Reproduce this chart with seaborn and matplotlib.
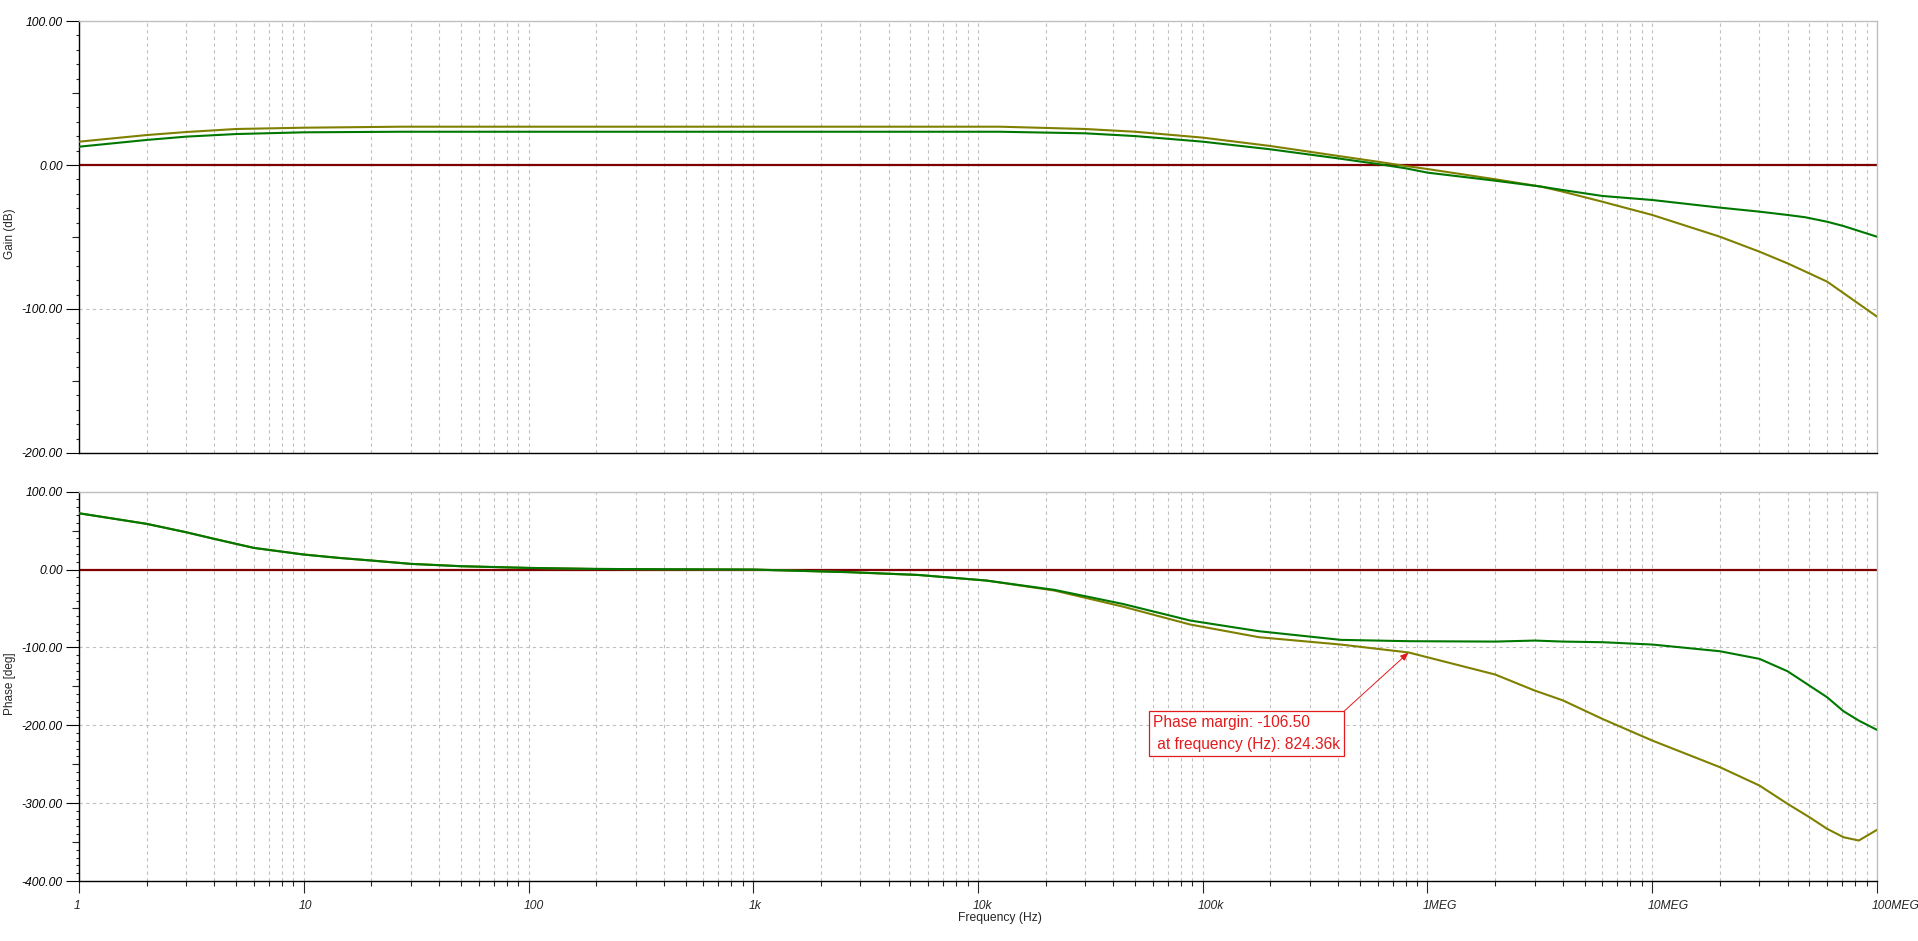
import matplotlib
matplotlib.use("Agg")
import matplotlib.pyplot as plt
import matplotlib.transforms as mtransforms
from matplotlib.ticker import FixedLocator, LogLocator, NullFormatter
import numpy as np
import seaborn as sns

# values (TINA style)
gain_freq = [1, 2, 3, 5, 10, 27, 100, 1e3, 5e3, 12.5e3, 30e3, 50e3, 100e3, 200e3, 400e3,
             600e3, 800e3, 1e6, 2e6, 3.2e6, 4e6, 6e6, 10e6, 20e6, 30e6, 40e6, 48e6, 60e6,
             71e6, 100e6]
gain_olive = [16.2, 20.8, 22.9, 25.0, 25.9, 26.6, 26.6, 26.6, 26.6, 26.6, 25.0, 23.1, 19.0,
              13.2, 6.3, 2.3, -0.7, -2.8, -9.9, -15.0, -18.5, -25.5, -34.7, -49.8, -60.2,
              -68.3, -74.0, -81.0, -89.0, -105.3]
gain_green = [12.7, 17.4, 19.7, 21.5, 22.7, 23.1, 23.1, 23.1, 23.1, 23.1, 22.0, 20.1, 16.2,
              10.9, 4.6, 0.7, -2.3, -5.3, -10.9, -15.0, -17.4, -21.5, -24.3, -29.6, -32.4,
              -34.7, -36.3, -39.4, -42.4, -49.8]

phase_freq = [1, 2, 3, 4, 5, 6, 10, 14.3, 20, 30, 50, 100, 200, 400, 1e3, 2.7e3,
              5.4e3, 10.9e3, 21.9e3, 44e3, 88e3, 178e3, 411e3, 824e3, 2e6, 3e6, 4e6, 6e6,
              10e6, 20e6, 30e6, 40e6, 50e6, 60e6, 71e6, 83e6, 100e6]
phase_green = [72.3, 58.7, 47.9, 39.4, 33.0, 27.8, 19.3, 15.0, 11.6, 7.3, 4.3,
               2.1, 0.8, 0.4, 0.0, -3.4, -6.9, -14.1, -26.1, -44.1, -65.5, -79.2, -90.3,
               -92.0, -92.5, -91.2, -92.5, -93.3, -96.3, -104.9, -114.7, -130.6, -149.0,
               -164.0, -182.0, -194.0, -205.9]
phase_olive = [72.3, 58.7, 47.9, 39.4, 33.0, 27.8, 19.3, 15.0, 11.6, 7.3, 4.3,
               2.1, 0.8, 0.4, 0.0, -3.4, -6.9, -14.1, -27.0, -47.5, -70.6, -86.9, -96.3,
               -106.5, -134.8, -155.4, -168.0, -191.8, -219.6, -253.8, -277.4, -300.9,
               -318.0, -333.0, -343.8, -348.0, -334.3]

gain_ticks = [100, 0, -100, -200]
phase_ticks = [100, 0, -100, -200, -300, -400]
freq_ticks = [1, 10, 100, 1e3, 1e4, 1e5, 1e6, 1e7, 1e8]
freq_labels = ["1", "10", "100", "1k", "10k", "100k", "1MEG", "10MEG", "100MEG"]

pm_freq = 824.36e3
pm_value = -106.50

OLIVE = "#808000"
GREEN = "#007800"
DARKRED = "#800000"
GRIDC = "#c0c0c0"
RED = "#e41a1c"

sns.set_style("white")
plt.rcParams["font.family"] = ["Liberation Sans", "DejaVu Sans"]

fig = plt.figure(figsize=(19.18, 9.41), dpi=100)
ax1 = fig.add_axes([0.04119, 0.51860, 0.93743, 0.45908])
ax2 = fig.add_axes([0.04119, 0.06376, 0.93743, 0.41371])


def style_axis(ax, yticks, ymin):
    ax.set_xscale("log")
    ax.set_xlim(1, 1e8)
    ax.set_ylim(ymin, 100)
    ax.set_axisbelow(True)
    ax.xaxis.set_major_locator(FixedLocator(freq_ticks))
    ax.xaxis.set_minor_locator(LogLocator(base=10, subs=np.arange(2, 10), numticks=100))
    ax.xaxis.set_minor_formatter(NullFormatter())
    ax.yaxis.set_major_locator(FixedLocator(yticks))
    ax.set_yticklabels([f"{v:.2f}" for v in yticks], fontstyle="italic", fontsize=8.7)
    ax.yaxis.set_minor_locator(FixedLocator(np.arange(ymin, 101, 10)))
    ax.grid(True, which="both", axis="x", color=GRIDC, lw=0.8, ls=(0, (3, 3)))
    ax.grid(True, which="major", axis="y", color=GRIDC, lw=0.8, ls=(0, (3, 3)))
    for side in ["top", "right"]:
        ax.spines[side].set_color(GRIDC)
        ax.spines[side].set_linewidth(1.0)
    for side in ["left", "bottom"]:
        ax.spines[side].set_color("black")
        ax.spines[side].set_linewidth(1.0)
    ax.tick_params(axis="y", which="major", direction="out", length=9.4, width=0.8,
                   pad=2.2, colors="black", left=True)
    ax.tick_params(axis="y", which="minor", direction="out", length=2.2, width=0.8,
                   left=True)
    # half-way ticks every 50
    sec = ax.secondary_yaxis("left")
    sec.yaxis.set_major_locator(FixedLocator(np.arange(ymin + 50, 100, 100)))
    sec.tick_params(axis="y", length=5, width=0.8, labelleft=False, direction="out")
    sec.spines["left"].set_visible(False)
    ax.axhline(0, color=DARKRED, lw=1.6, zorder=2)


style_axis(ax1, gain_ticks, -200)
style_axis(ax2, phase_ticks, -400)

sns.lineplot(x=gain_freq, y=gain_olive, ax=ax1, color=OLIVE, lw=1.5, estimator=None, zorder=3)
sns.lineplot(x=gain_freq, y=gain_green, ax=ax1, color=GREEN, lw=1.5, estimator=None, zorder=4)
sns.lineplot(x=phase_freq, y=phase_olive, ax=ax2, color=OLIVE, lw=1.5, estimator=None, zorder=3)
sns.lineplot(x=phase_freq, y=phase_green, ax=ax2, color=GREEN, lw=1.5, estimator=None, zorder=4)

# top plot: no x tick marks or labels
ax1.tick_params(axis="x", which="both", bottom=False, labelbottom=False)

# bottom plot x ticks
ax2.set_xticklabels(freq_labels, fontstyle="italic", fontsize=8.7)
ax2.tick_params(axis="x", which="major", direction="out", length=8.6, width=0.8, pad=5,
                bottom=True)
ax2.tick_params(axis="x", which="minor", direction="out", length=3.6, width=0.8,
                bottom=True)
offset = mtransforms.ScaledTranslation(-5 / 100, 0, fig.dpi_scale_trans)
for lab in ax2.get_xticklabels():
    lab.set_horizontalalignment("left")
    lab.set_transform(lab.get_transform() + offset)

ax1.set_ylabel("Gain (dB)", fontsize=8.5)
ax2.set_ylabel("Phase [deg]", fontsize=8.5)
ax1.yaxis.set_label_coords(-0.035, 0.507)
ax2.yaxis.set_label_coords(-0.035, 0.508)
ax2.set_xlabel("Frequency (Hz)", fontsize=8.7)
ax2.xaxis.set_label_coords(0.512, -0.08)
ax1.set_xlabel("")

ax2.annotate(f"Phase margin: {pm_value:.2f}\n at frequency (Hz): 824.36k",
             xy=(pm_freq, pm_value), xytext=(60.07e3, -210.6), textcoords="data",
             ha="left", va="center", fontsize=11.2, color=RED, linespacing=1.6,
             bbox=dict(boxstyle="square,pad=0.25", fc="white", ec=RED, lw=0.9),
             arrowprops=dict(arrowstyle="-|>,head_length=0.45,head_width=0.18",
                             color=RED, lw=0.7, shrinkA=0, shrinkB=0, relpos=(1, 1)),
             zorder=6)

fig.savefig("out.png", dpi=100, facecolor="white")
